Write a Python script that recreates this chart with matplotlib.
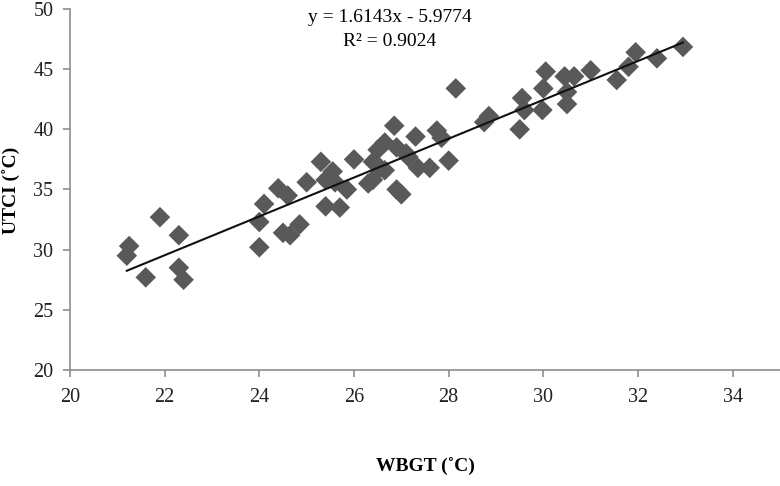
import matplotlib
matplotlib.use("Agg")
import matplotlib.pyplot as plt
import numpy as np

wbgt = [21.2, 21.25, 21.6, 21.9, 22.3, 22.3, 22.4,
        24.0, 24.0, 24.1, 24.4, 24.6, 24.5, 24.65, 24.85,
        25.0, 25.3, 25.4, 25.4, 25.55, 25.6, 25.7, 25.85, 26.0,
        26.3, 26.4, 26.4, 26.5, 26.55, 26.65, 26.65, 26.85, 26.9, 26.9, 27.0,
        27.1, 27.15, 27.3, 27.35, 27.6, 27.75, 27.85, 28.0, 28.15,
        28.75, 28.85, 29.5, 29.55, 29.6, 29.98, 30.0, 30.05,
        30.45, 30.5, 30.5, 30.65, 31.0, 31.55, 31.8, 31.95, 32.4, 32.95]
utci = [29.5, 30.3, 27.7, 32.7, 31.2, 28.5, 27.5,
        30.2, 32.3, 33.8, 35.1, 34.5, 31.4, 31.2, 32.1,
        35.6, 37.3, 33.6, 35.8, 36.5, 35.6, 33.5, 35.0, 37.5,
        35.5, 35.8, 37.3, 38.3, 36.8, 36.6, 38.9, 40.3, 38.5, 35.0, 34.6,
        38.0, 37.7, 39.4, 36.8, 36.8, 39.9, 39.3, 37.4, 43.4,
        40.6, 41.1, 40.0, 42.6, 41.6, 41.6, 43.4, 44.8,
        44.4, 43.1, 42.1, 44.4, 44.9, 44.1, 45.2, 46.4, 45.9, 46.85]

slope, intercept = 1.6143, -5.9774
x_ticks = [20, 22, 24, 26, 28, 30, 32, 34]
y_ticks = [20, 25, 30, 35, 40, 45, 50]

serif = ["Liberation Serif", "DejaVu Serif"]
fig = plt.figure(figsize=(7.8, 4.86), dpi=100)
ax = fig.add_axes([70/780, 116/486, 710/780, 361/486])

ax.scatter(wbgt, utci, marker="D", s=110, color="#595959", edgecolors="none", zorder=3)
xl = np.array([min(wbgt), max(wbgt)])
ax.plot(xl, slope * xl + intercept, color="#111111", lw=1.5, zorder=4)

ax.set_xlim(20, 35)
ax.set_ylim(20, 50)
ax.set_xticks(x_ticks)
ax.set_yticks(y_ticks)
for s in ["top", "right"]:
    ax.spines[s].set_visible(False)
for s in ["left", "bottom"]:
    ax.spines[s].set_color("#8c8c8c")
    ax.spines[s].set_linewidth(1.2)
ax.tick_params(colors="#8c8c8c", length=5, width=1.2, labelcolor="#222222")
ax.tick_params(axis="x", pad=8)
ax.tick_params(axis="y", pad=7)
for lab in ax.get_xticklabels() + ax.get_yticklabels():
    lab.set_family(serif)
    lab.set_fontsize(14.5)

fig.text(0.5 + 35/780, 1 - 467/486, "WBGT (˚C)", ha="center", va="center",
         family=serif, fontweight="bold", fontsize=14)
fig.text(12/780, 1 - 190/486, "UTCI (˚C)", ha="center", va="center", rotation=90,
         family=serif, fontweight="bold", fontsize=14)
fig.text(390/780, 1 - 17/486, "y = 1.6143x - 5.9774", ha="center", va="center",
         family=serif, fontsize=14)
fig.text(390/780, 1 - 42/486, "R² = 0.9024", ha="center", va="center",
         family=serif, fontsize=14)

fig.savefig("out.png", dpi=100)
